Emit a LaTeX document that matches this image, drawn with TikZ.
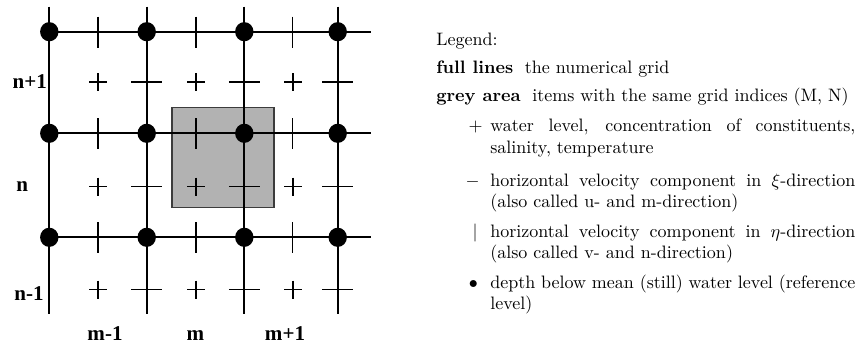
\documentclass[tikz,border=0pt]{standalone}
\usepackage{fontspec}
\newfontfamily\gridfont{Liberation Serif}
\definecolor{areagrey}{RGB}{178,178,178}
\definecolor{areaedge}{RGB}{60,60,60}
\begin{document}
\begin{tikzpicture}[x=0.5556pt,y=-0.5556pt,
  gridline/.style={line width=1.0pt,black},
  ticksym/.style={line width=0.85pt,black},
  depthdot/.style={fill=black},
  gridlabel/.style={inner sep=0pt,font=\gridfont\bfseries\fontsize{11.7}{14}\selectfont},
  legtext/.style={inner sep=0pt,font=\fontsize{10}{12}\selectfont},
  legitem/.style={legtext,text width=202.8pt,align=justify,anchor=base west},
  legsym/.style={legtext,anchor=base}]
\useasboundingbox (0,0) rectangle (860,345);
% grey area
\filldraw[fill=areagrey,draw=areaedge,line width=0.6pt] (172,107.3) rectangle (274,207.5);
% grid lines
\foreach \x in {49.3,146.7,244.3,337.7}
  \draw[gridline] (\x,6.7) -- (\x,314);
\foreach \y in {31.7,133.3,237.3}
  \draw[gridline] (49.3,\y) -- (371,\y);
% vertical ticks (eta velocity)
\foreach \x in {98,196,292.5}
  \foreach \y in {31.7,133.3,237.3}
    \draw[ticksym] (\x,\y-15) -- (\x,\y+16);
% plus marks (water level)
\foreach \x in {98,196,293}
  \foreach \y in {82,186.5,289.5}
    \draw[ticksym] (\x-9,\y) -- (\x+9,\y) (\x,\y-9) -- (\x,\y+9);
% horizontal ticks (xi velocity)
\foreach \x in {146.7,244.3,337.7}
  \foreach \y in {82,186.5,289.5}
    \draw[ticksym] (\x-15.5,\y) -- (\x+15.5,\y);
% depth dots
\foreach \x in {49.3,146.7,244.3,337.7}
  \foreach \y in {31.7,133.3,237.3}
    \fill[depthdot] (\x,\y) ellipse [x radius=9.2, y radius=9.6];
% grid labels
\node[gridlabel,anchor=base west] (np1) at (12.3,88.3) {n+1};
\node[gridlabel,anchor=base west] (n0) at (16,191.7) {n};
\node[gridlabel,anchor=base west] (nm1) at (14,300) {n-1};
\node[gridlabel,anchor=base] (mm1) at (105,340) {m-1};
\node[gridlabel,anchor=base] (m0) at (195.5,340) {m};
\node[gridlabel,anchor=base] (mp1) at (285,340) {m+1};
% legend
\node[legtext,anchor=base west] (leg) at (436,45) {Legend:};
\node[legtext,anchor=base west] (full) at (436,73.3) {\textbf{full lines}\hspace{6.5pt}the numerical grid};
\node[legtext,anchor=base west] (grey) at (436,101.7) {\textbf{grey area}\hspace{6.5pt}items with the same grid indices (M, N)};
\node[legsym] (s1) at (475.5,131.7) {$+$};
\node[legitem] (t1) at (490,131.7) {water level, concentration of constituents,\linebreak salinity, temperature};
\node[legsym] (s2) at (472.5,186) {$-$};
\node[legitem] (t2) at (490,186) {horizontal velocity component in $\xi$-direction\linebreak (also called u- and m-direction)};
\node[legsym] (s3) at (475,237.3) {$|$};
\node[legitem] (t3) at (490,237.3) {horizontal velocity component in $\eta$-direction\linebreak (also called v- and n-direction)};
\node[legsym] (s4) at (473.3,288.3) {$\bullet$};
\node[legitem] (t4) at (490,288.3) {depth below mean (still) water level (reference level)};
\end{tikzpicture}
\end{document}
